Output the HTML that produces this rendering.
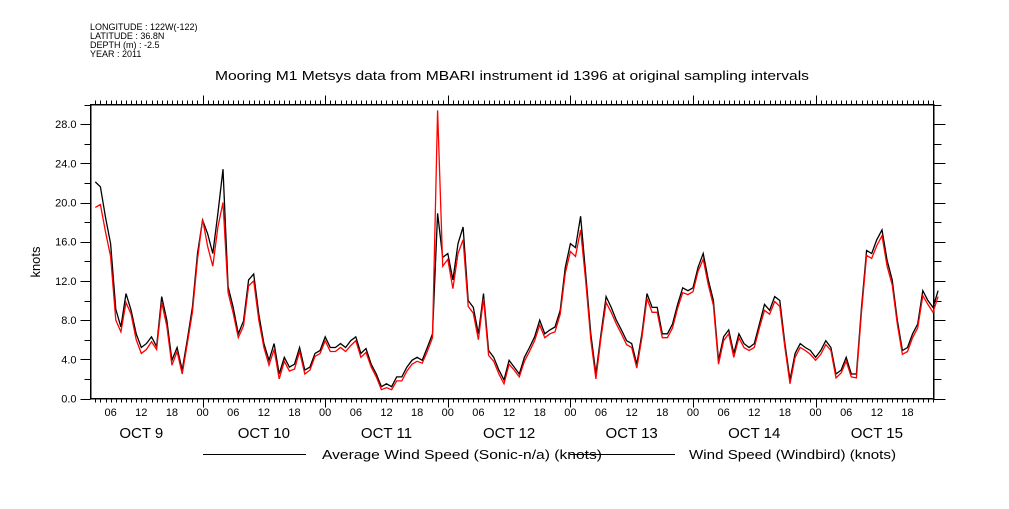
<!DOCTYPE html>
<html><head><meta charset="utf-8"><style>
body{margin:0;background:#fff;width:1009px;height:504px;overflow:hidden}
svg text{font-family:"Liberation Sans",sans-serif;fill:#000}
</style></head><body>
<svg id="chart" width="1009" height="504" viewBox="0 0 1009 504" xmlns="http://www.w3.org/2000/svg">
<g font-size="9">
<text x="90" y="30">LONGITUDE : 122W(-122)</text>
<text x="90" y="39">LATITUDE : 36.8N</text>
<text x="90" y="48">DEPTH (m) : -2.5</text>
<text x="90" y="57">YEAR : 2011</text>
</g>
<text x="512" y="80" font-size="13" text-anchor="middle" textLength="594" lengthAdjust="spacingAndGlyphs">Mooring M1 Metsys data from MBARI instrument id 1396 at original sampling intervals</text>
<text x="40" y="262" font-size="13" text-anchor="middle" transform="rotate(-90 40 262)">knots</text>
<g id="axes" shape-rendering="crispEdges"></g>
<g id="series"></g>
<g shape-rendering="crispEdges">
<line x1="203" y1="454.5" x2="306" y2="454.5" stroke="#000" stroke-width="1"/>
<text x="322" y="459" font-size="13" textLength="280" lengthAdjust="spacingAndGlyphs">Average Wind Speed (Sonic-n/a) (knots)</text>
<line x1="570" y1="454.5" x2="675" y2="454.5" stroke="#000" stroke-width="1"/>
<text x="689" y="459" font-size="13" textLength="207" lengthAdjust="spacingAndGlyphs">Wind Speed (Windbird) (knots)</text>
</g>
</svg>
<script>
const startHour = 3;
const sonicValues = [22.1,21.6,18.5,15.8,9.1,7.3,10.7,9.0,6.6,5.2,5.6,6.3,5.3,10.4,8.0,3.9,5.2,2.9,6.0,9.3,14.8,18.2,16.8,14.8,18.9,23.4,11.4,9.3,6.6,7.9,12.1,12.7,8.6,5.6,3.9,5.6,2.5,4.2,3.2,3.5,5.2,2.9,3.2,4.6,4.9,6.3,5.2,5.2,5.6,5.2,5.9,6.3,4.6,5.1,3.5,2.5,1.2,1.5,1.2,2.2,2.2,3.2,3.9,4.2,3.9,5.2,6.6,18.9,14.4,14.8,12.1,15.8,17.5,10.0,9.3,6.6,10.7,4.9,4.2,2.9,1.9,3.9,3.2,2.5,4.2,5.2,6.3,8.0,6.6,7.0,7.3,9.0,13.4,15.8,15.4,18.6,12.7,6.6,2.5,6.6,10.4,9.3,8.0,7.0,5.9,5.6,3.5,6.6,10.7,9.3,9.3,6.6,6.6,7.6,9.6,11.3,11.0,11.3,13.4,14.8,12.1,10.0,3.9,6.3,7.0,4.6,6.6,5.6,5.2,5.6,7.6,9.6,9.0,10.4,10.0,5.6,1.9,4.6,5.6,5.2,4.9,4.2,4.9,5.9,5.2,2.5,2.9,4.2,2.5,2.5,9.3,15.1,14.8,16.2,17.2,14.1,12.1,8.0,4.9,5.2,6.6,7.6,11.0,10.0,9.3,11.0];
const windbirdValues = [19.5,19.8,17.0,14.5,8.0,6.8,9.8,8.6,6.0,4.6,5.0,5.8,5.0,9.8,7.4,3.4,4.8,2.5,5.6,8.8,14.2,18.3,15.5,13.5,17.5,20.0,10.8,8.7,6.2,7.4,11.5,12.0,8.0,5.2,3.4,5.0,2.0,3.8,2.8,3.0,4.8,2.5,2.9,4.3,4.6,5.9,4.8,4.8,5.2,4.8,5.4,5.9,4.2,4.7,3.2,2.2,0.9,1.1,0.9,1.8,1.8,2.8,3.5,3.8,3.6,4.8,6.2,29.4,13.5,14.2,11.2,14.8,16.2,9.4,8.7,6.0,10.2,4.4,3.8,2.5,1.5,3.5,2.9,2.2,3.8,4.8,5.9,7.5,6.2,6.6,6.8,8.6,12.8,15.0,14.5,17.2,12.0,6.0,2.0,6.2,9.8,8.8,7.6,6.6,5.5,5.2,3.1,6.2,10.2,8.8,8.8,6.2,6.2,7.2,9.2,10.8,10.6,10.9,13.0,14.2,11.6,9.5,3.5,5.9,6.6,4.2,6.2,5.2,4.9,5.2,7.2,9.0,8.6,9.9,9.4,5.2,1.5,4.2,5.2,4.9,4.5,3.9,4.5,5.5,4.9,2.1,2.6,3.8,2.2,2.1,8.8,14.6,14.3,15.6,16.6,13.5,11.6,7.6,4.5,4.8,6.2,7.2,10.5,9.6,8.8,10.4];
const yTicks = [0,4,8,12,16,20,24,28];
const yTickLabels = ["0.0","4.0","8.0","12.0","16.0","20.0","24.0","28.0"];
const hourLabels = ["06","12","18","00"];
const dayLabels = ["OCT  9","OCT 10","OCT 11","OCT 12","OCT 13","OCT 14","OCT 15"];

const L=90.5,R=933.5,T=104.5,B=398.5,yMax=30,pxPerHour=5.108,originX=80;
const NS="http://www.w3.org/2000/svg";
function X(h){return originX+h*pxPerHour;}
function Y(v){return B-(v/yMax)*(B-T);}
function mk(tag,attrs,parent){const e=document.createElementNS(NS,tag);for(const k in attrs)e.setAttribute(k,attrs[k]);parent.appendChild(e);return e;}
const axes=document.getElementById('axes');
const frame=mk('rect',{x:L,y:T,width:R-L,height:B-T,fill:'none',stroke:'#000','stroke-width':1.5},axes);


for(let v=0;v<=30;v+=2){
  const len=v%4===0?10:6;
  const yy=Math.round(Y(v))+0.5;
  const t1=mk('line',{x1:L-len,y1:yy,x2:L,y2:yy,stroke:'#000'},axes);
  
  
  const t2=mk('line',{x1:R,y1:yy,x2:R+len+2,y2:yy,stroke:'#000'},axes);
  
  
}
yTicks.forEach((v,i)=>{
  const t=mk('text',{x:L-14,y:Y(v)+4,'font-size':11,'text-anchor':'end'},axes);
  t.textContent=yTickLabels[i];
  
  
});
for(let h=3;h<=167;h++){
  const xx=Math.round(X(h))+0.5;
  const major=h%24===0;
  const b=mk('line',{x1:xx,y1:B,x2:xx,y2:B+(major?9:4),stroke:'#000'},axes);
  
  
  const t=mk('line',{x1:xx,y1:T,x2:xx,y2:T-(major?9:4),stroke:'#000'},axes);
  
  
  if(h%6===0){
    const lb=mk('text',{x:X(h),y:416,'font-size':11,'text-anchor':'middle'},axes);
    lb.textContent=hourLabels[(h/6-1)%4];
    
    
  }
}
dayLabels.forEach((d,i)=>{
  const t=mk('text',{x:X(i*24+12),y:438,'font-size':15,'text-anchor':'middle','xml:space':'preserve'},axes);
  t.textContent=d;
  
  
});
const series=document.getElementById('series');
function path(vals,color,name){
  let d='';
  vals.forEach((v,i)=>{d+=(i?'L':'M')+X(startHour+i).toFixed(1)+' '+Y(v).toFixed(1);});
  const p=mk('path',{d:d,fill:'none',stroke:color,'stroke-width':1.3},series);
  
  
}
path(sonicValues,'#000','sonic-wind-line');
path(windbirdValues,'#f00','windbird-wind-line');
</script>
</body></html>
